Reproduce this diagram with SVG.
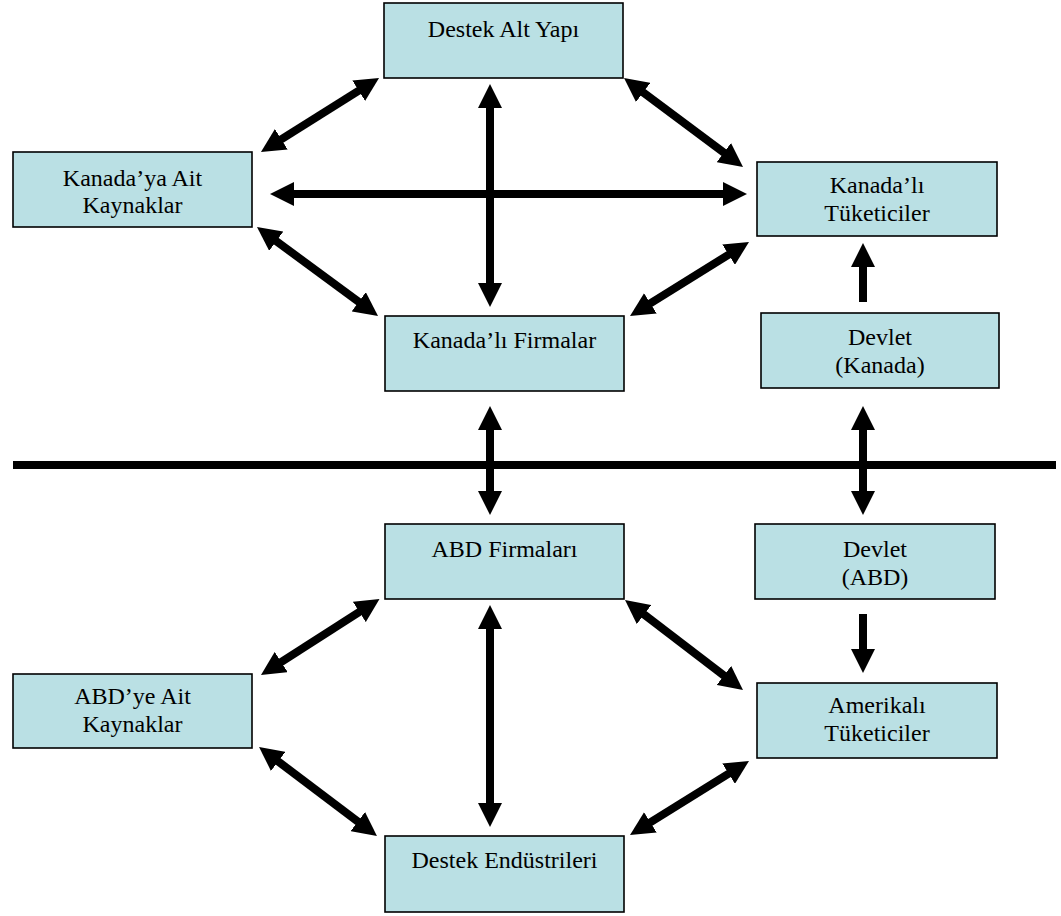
<svg xmlns="http://www.w3.org/2000/svg" width="1061" height="916" viewBox="0 0 1061 916">
<defs>
<marker id="ah" viewBox="0 0 24 24" markerWidth="24" markerHeight="24" refX="2" refY="12" markerUnits="userSpaceOnUse" orient="auto-start-reverse">
<path d="M0,0 L24,12 L0,24 z" fill="#000"/>
</marker>
<style>
.box{fill:#BAE0E4;stroke:#000;stroke-width:1.6}
.t{font-family:"Liberation Serif","Times New Roman",serif;font-size:24px;fill:#000;text-anchor:middle}
.c{stroke:#000;stroke-width:8;fill:none}
.d{marker-start:url(#ah);marker-end:url(#ah)}
.s{marker-end:url(#ah)}
</style>
</defs>
<rect width="1061" height="916" fill="#fff"/>
<g id="connectors">
<line class="c" x1="13" y1="465" x2="1056" y2="465"/>
<line class="c d" x1="360.4" y1="89.7" x2="279.6" y2="140.3"/>
<line class="c d" x1="641.6" y1="91.2" x2="725.4" y2="153.8"/>
<line class="c d" x1="292" y1="194" x2="725" y2="194"/>
<line class="c d" x1="490" y1="106" x2="490" y2="285"/>
<line class="c d" x1="274.7" y1="240" x2="360.3" y2="303"/>
<line class="c d" x1="730.3" y1="253.6" x2="648.7" y2="304.4"/>
<line class="c s" x1="863" y1="302" x2="863" y2="265"/>
<line class="c d" x1="490" y1="428" x2="490" y2="493"/>
<line class="c d" x1="863" y1="428" x2="863" y2="493"/>
<line class="c d" x1="361" y1="610.9" x2="279.5" y2="663.1"/>
<line class="c d" x1="642.5" y1="613.3" x2="725.5" y2="676.7"/>
<line class="c d" x1="490" y1="627" x2="490" y2="805"/>
<line class="c s" x1="863" y1="614" x2="863" y2="651"/>
<line class="c d" x1="276.6" y1="760.2" x2="359.4" y2="822.8"/>
<line class="c d" x1="730.3" y1="772.6" x2="648.7" y2="823.4"/>
</g>
<g id="destek-alt-yapi">
<rect class="box" x="384" y="3" width="239" height="75"/>
<text class="t" x="503.5" y="37">Destek Alt Yapı</text>
</g>
<g id="kanada-kaynaklar">
<rect class="box" x="13" y="152" width="239" height="75"/>
<text class="t" x="132.5" y="186">Kanada’ya Ait</text>
<text class="t" x="132.5" y="213">Kaynaklar</text>
</g>
<g id="kanada-tuketiciler">
<rect class="box" x="757" y="162" width="240" height="74"/>
<text class="t" x="877" y="193">Kanada’lı</text>
<text class="t" x="877" y="221">Tüketiciler</text>
</g>
<g id="kanada-firmalar">
<rect class="box" x="385" y="316" width="239" height="75"/>
<text class="t" x="504.5" y="348">Kanada’lı Firmalar</text>
</g>
<g id="devlet-kanada">
<rect class="box" x="761" y="313" width="238" height="75"/>
<text class="t" x="880" y="345">Devlet</text>
<text class="t" x="880" y="373">(Kanada)</text>
</g>
<g id="abd-firmalari">
<rect class="box" x="385" y="524" width="239" height="75"/>
<text class="t" x="504.5" y="557">ABD Firmaları</text>
</g>
<g id="devlet-abd">
<rect class="box" x="755" y="524" width="240" height="75"/>
<text class="t" x="875" y="557">Devlet</text>
<text class="t" x="875" y="585">(ABD)</text>
</g>
<g id="abd-kaynaklar">
<rect class="box" x="13" y="674" width="239" height="74"/>
<text class="t" x="132.5" y="704">ABD’ye Ait</text>
<text class="t" x="132.5" y="732">Kaynaklar</text>
</g>
<g id="amerikali-tuketiciler">
<rect class="box" x="757" y="683" width="240" height="75"/>
<text class="t" x="877" y="713">Amerikalı</text>
<text class="t" x="877" y="741">Tüketiciler</text>
</g>
<g id="destek-endustrileri">
<rect class="box" x="385" y="836" width="239" height="76"/>
<text class="t" x="504.5" y="868">Destek Endüstrileri</text>
</g>
</svg>
